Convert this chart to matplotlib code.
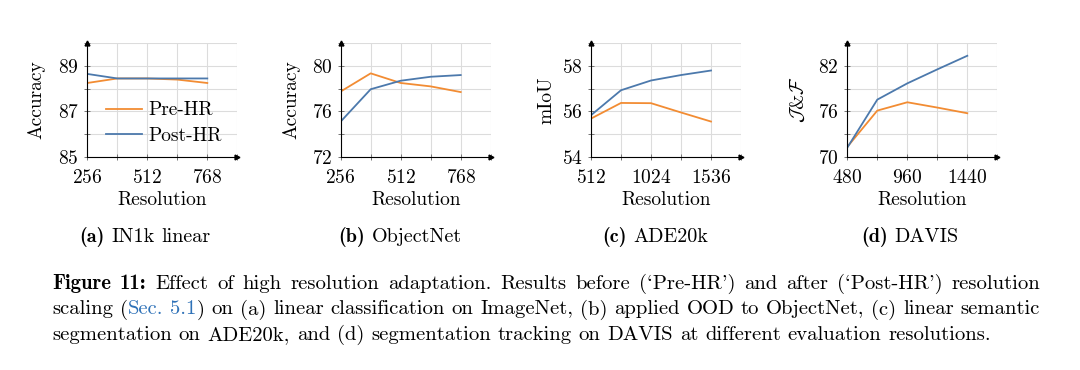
import numpy as np
import matplotlib
matplotlib.use("Agg")
import matplotlib.pyplot as plt

# values
res_in1k = [256, 384, 512, 640, 768]
pre_in1k = [88.25, 88.45, 88.45, 88.40, 88.25]
post_in1k = [88.65, 88.45, 88.45, 88.45, 88.45]

res_objnet = [256, 384, 512, 640, 768]
pre_objnet = [77.75, 79.35, 78.50, 78.20, 77.70]
post_objnet = [75.10, 77.95, 78.70, 79.05, 79.20]

res_ade = [512, 768, 1024, 1280, 1536]
pre_ade = [55.68, 56.37, 56.36, 55.95, 55.55]
post_ade = [55.83, 56.93, 57.36, 57.60, 57.80]

res_davis = [480, 720, 960, 1200, 1440]
pre_davis = [71.3, 76.1, 77.2, 76.5, 75.75]
post_davis = [71.2, 77.55, 79.7, 81.55, 83.35]

xticks_in1k = [256, 512, 768]
xticks_ade = [512, 1024, 1536]
xticks_davis = [480, 960, 1440]
yticks_in1k = [85, 87, 89]
yticks_objnet = [72, 76, 80]
yticks_ade = [54, 56, 58]
yticks_davis = [70, 76, 82]

ylabels = ["Accuracy", "Accuracy", "mIoU", r"$\mathcal{J}$&$\mathcal{F}$"]
subcap_tags = ["(a)", "(b)", "(c)", "(d)"]
subcap_names = ["IN1k linear", "ObjectNet", "ADE20k", "DAVIS"]

ORANGE = "#F28C33"
BLUE = "#4C79AC"
LINK = "#2F72B8"

plt.rcParams["font.family"] = ["cmr10", "DejaVu Serif"]
plt.rcParams["mathtext.fontset"] = "cm"
plt.rcParams["axes.unicode_minus"] = False
plt.rcParams["axes.formatter.use_mathtext"] = True

W, H = 1080, 370
FS = 14
fig = plt.figure(figsize=(W / 100, H / 100), dpi=100)


def px_box(left, top, width, height):
    return [left / W, 1 - (top + height) / H, width / W, height / H]


def setup_axis(ax, xt, yt, xlim, ylim, ylabel, ylab_off):
    xstep = xt[1] - xt[0]
    ystep = yt[1] - yt[0]
    ax.set_xlim(*xlim)
    ax.set_ylim(*ylim)
    ax.set_xticks(xt)
    ax.set_xticks([v + xstep / 2 for v in xt], minor=True)
    ax.set_yticks(yt)
    ax.set_yticks([v + ystep / 2 for v in yt], minor=True)
    ax.grid(True, which="both", color="#dcdcdc", lw=0.8, zorder=0)
    ax.set_axisbelow(True)
    for s in ["top", "right"]:
        ax.spines[s].set_visible(False)
    for s in ["left", "bottom"]:
        ax.spines[s].set_linewidth(0.8)
        ax.spines[s].set_zorder(5)
    ax.tick_params(which="both", direction="inout", length=4, width=0.7,
                   color="0.45", labelsize=FS)
    ax.tick_params(axis="x", pad=7)
    ax.tick_params(axis="y", pad=4)
    ax.plot(1, 0, ">", color="k", ms=3.5, transform=ax.transAxes, clip_on=False, zorder=6)
    ax.plot(0, 1, "^", color="k", ms=3.5, transform=ax.transAxes, clip_on=False, zorder=6)
    ax.set_xlabel("Resolution", fontsize=FS)
    ax.xaxis.label.set_va("center")
    ax.xaxis.set_label_coords(0.5, -43.3 / 113.4)
    ax.set_ylabel(ylabel, fontsize=FS)
    ax.yaxis.label.set_va("center")
    ax.yaxis.set_label_coords(-ylab_off / 150, 0.5)


lefts = [87.3, 340.7, 591.0, 847.3]
ylab_offs = [50.6, 49.0, 44.3, 49.0]
panels = [
    (res_in1k, pre_in1k, post_in1k, xticks_in1k, yticks_in1k, (256, 830), (85, 89.91)),
    (res_objnet, pre_objnet, post_objnet, xticks_in1k, yticks_objnet, (256, 830), (72, 81.83)),
    (res_ade, pre_ade, post_ade, xticks_ade, yticks_ade, (512, 1661), (54, 58.91)),
    (res_davis, pre_davis, post_davis, xticks_davis, yticks_davis, (480, 1557), (70, 84.74)),
]

axes = []
for i, (x, pre, post, xt, yt, xl, yl) in enumerate(panels):
    ax = fig.add_axes(px_box(lefts[i], 43.3, 150, 113.4))
    ax.plot(x, pre, color=ORANGE, lw=1.3, label="Pre-HR", zorder=3)
    ax.plot(x, post, color=BLUE, lw=1.3, label="Post-HR", zorder=3)
    setup_axis(ax, xt, yt, xl, yl, ylabels[i], ylab_offs[i])
    axes.append(ax)

axes[0].legend(loc="center left", bbox_to_anchor=((106 - 87.3) / 150, (156.7 - 123.2) / 113.4),
               frameon=False, fontsize=FS, borderpad=0, borderaxespad=0,
               handlelength=1.85, handletextpad=0.35, labelspacing=0.4)

renderer = fig.canvas.get_renderer()


def put_line(segments, x0, y, fs, x1=None, center=False):
    # lay out words one by one; x1 justifies the line, center centres it on x0
    words = [[]]
    for txt, kw in segments:
        parts = txt.split(" ")
        for j, p in enumerate(parts):
            if j > 0:
                words.append([])
            if p:
                words[-1].append((p, kw))
    words = [w for w in words if w]
    widths = []
    for w in words:
        tot = 0
        for p, kw in w:
            t = fig.text(0, 0, p, fontsize=fs, **kw)
            tot += t.get_window_extent(renderer).width
            t.remove()
        widths.append(tot)
    gap = fs * 0.333 * 100 / 72
    if x1 is not None:
        gap = (x1 - x0 - sum(widths)) / (len(words) - 1)
    if center:
        x0 = x0 - (sum(widths) + gap * (len(words) - 1)) / 2
    x = x0
    for w, wd in zip(words, widths):
        xx = x
        for p, kw in w:
            t = fig.text(xx / W, 1 - y / H, p, fontsize=fs, ha="left", va="baseline", **kw)
            xx += t.get_window_extent(renderer).width
        x += wd + gap


reg = {"family": ["cmr10", "DejaVu Serif"]}
bold = {"family": ["cmb10", "DejaVu Serif"]}
link = {"family": ["cmr10", "DejaVu Serif"], "color": LINK}

for i, cx in enumerate([145, 400, 655, 910]):
    put_line([(subcap_tags[i], bold), (" " + subcap_names[i], reg)], cx, 242, 14.5, center=True)

# caption
CAP_FS = 14.9
put_line([("Figure 11:", bold),
          (" Effect of high resolution adaptation. Results before (`Pre-HR') and after (`Post-HR') resolution", reg)],
         52, 289, CAP_FS, x1=1040)
put_line([("scaling (", reg), ("Sec. 5.1", link),
          (") on (a) linear classification on ImageNet, (b) applied OOD to ObjectNet, (c) linear semantic", reg)],
         52, 314.5, CAP_FS, x1=1040)
put_line([("segmentation on ADE20k, and (d) segmentation tracking on DAVIS at different evaluation resolutions.", reg)],
         52, 340, CAP_FS)

fig.savefig("out.png", dpi=100)
